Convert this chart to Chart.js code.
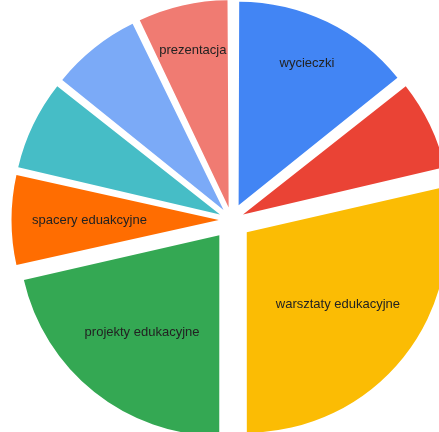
<!DOCTYPE html>
<html>
<head>
<meta charset="utf-8">
<script src="https://cdn.jsdelivr.net/npm/chart.js@4"></script>
<style>
  html, body { margin: 0; padding: 0; background: #fff; overflow: hidden; }
  #wrap { width: 439px; height: 432px; }
</style>
</head>
<body>
<div id="wrap"><canvas id="myChart" width="439" height="432"></canvas></div>
<script>
// slices, clockwise from 12 o'clock
var labels = ['wycieczki', '', 'warsztaty edukacyjne', 'projekty edukacyjne',
  'spacery eduakcyjne', '', '', 'prezentacja'];
var values = [2, 1, 4, 3, 1, 1, 1, 1];
var colors = ['#4285f4', '#ea4335', '#fbbc04', '#34a853',
  '#ff6d01', '#46bdc6', '#7baaf7', '#f07b72'];

var GAP = 20; // how far each slice is pulled out

function sliceAngle(i) {
  var total = values.reduce(function (a, b) { return a + b; }, 0);
  return values[i] / total * Math.PI * 2;
}

// chart.js moves an arc by offset/4 * (2 - sin(angle)), undo that so every slice moves GAP px
function arcOffset(c) {
  var fix = 1 - Math.sin(Math.min(Math.PI, sliceAngle(c.dataIndex)));
  return 4 * GAP / (1 + fix);
}

var sliceLabels = {
  id: 'sliceLabels',
  afterDatasetsDraw: function (chart) {
    var ctx = chart.ctx;
    var meta = chart.getDatasetMeta(0);
    ctx.save();
    ctx.font = '13px "Liberation Sans", Arial, sans-serif';
    ctx.fillStyle = '#222';
    ctx.textAlign = 'center';
    ctx.textBaseline = 'middle';
    meta.data.forEach(function (arc, i) {
      if (!labels[i]) return;
      var p = arc.getProps(['x', 'y', 'startAngle', 'endAngle', 'outerRadius'], true);
      var mid = (p.startAngle + p.endAngle) / 2;
      var ux = Math.cos(mid), uy = Math.sin(mid);
      var hw = ctx.measureText(labels[i]).width / 2, hh = 7;
      var a = sliceAngle(i);
      // wide slices: centroid of the sector; narrow ones further out
      var d = a < 1 ? p.outerRadius * 0.77 : p.outerRadius * 4 * Math.sin(a / 2) / (3 * a);
      // keep the text box inside the pie
      while (d > 0 && Math.hypot(Math.abs(ux) * d + hw, Math.abs(uy) * d + hh) > p.outerRadius * 0.9) d -= 1;
      ctx.fillText(labels[i], p.x + ux * (GAP + d), p.y + uy * (GAP + d));
    });
    ctx.restore();
  }
};

var ctx = document.getElementById('myChart').getContext('2d');

var chart = new Chart(ctx, {
    type: 'pie',
    data: {
        labels: labels,
        datasets: [{
            data: values,
            backgroundColor: colors,
            borderWidth: 0,
            offset: arcOffset,
            hoverOffset: 0,
            clip: false
        }]
    },
    options: {
        responsive: false,
        animation: false,
        radius: 200,
        layout: { padding: { left: 24, top: 8, right: 0, bottom: 0 } },
        plugins: {
            legend: { display: false },
            tooltip: { enabled: false }
        }
    },
    plugins: [sliceLabels]
});
</script>
</body>
</html>
